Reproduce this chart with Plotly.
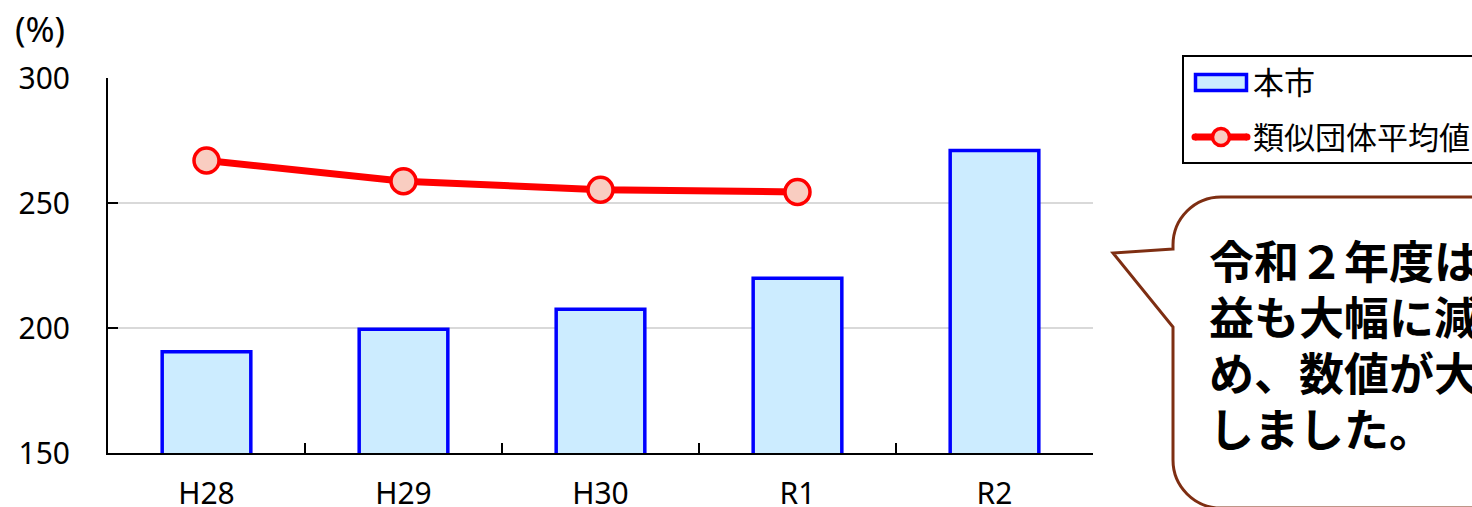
import plotly.graph_objects as go

# Fiscal years and indicator values (%)
years = ["H28", "H29", "H30", "R1", "R2"]
city_values = [190.5, 199.5, 207.5, 219.9, 271.0]
peer_average = [267.0, 258.7, 255.3, 254.4, None]

series_names = ["本市", "類似団体平均値"]
y_ticks = [150, 200, 250, 300]
unit_label = "(%)"
callout_lines = ["令和２年度は", "益も大幅に減", "め、数値が大", "しました。"]

W, H = 1472, 507
L, R, T, B = 108, 1093, 78, 453   # plot area in pixels

FONT = "Noto Sans, Noto Sans CJK JP, sans-serif"
BAR_FILL, BAR_EDGE = "#CCECFF", "#0000FF"
LINE_RED, MARKER_FILL = "#FF0000", "#F9CDC1"
BUBBLE_EDGE = "#7E2E12"


def px(x):
    return (x - L) / (R - L)


def py(y):
    return (B - y) / (B - T)


def path(points_cmds):
    out = []
    for cmd, pts in points_cmds:
        coords = " ".join(f"{px(a):.5f},{py(b):.5f}" for a, b in pts)
        out.append(f"{cmd}{coords}")
    return " ".join(out) + " Z"


fig = go.Figure()

fig.add_trace(go.Bar(
    x=years, y=city_values, name=series_names[0],
    marker=dict(color=BAR_FILL, line=dict(color=BAR_EDGE, width=3.5)),
    showlegend=False, hoverinfo="skip",
))

fig.add_trace(go.Scatter(
    x=years, y=peer_average, name=series_names[1], mode="lines+markers",
    line=dict(color=LINE_RED, width=7),
    marker=dict(size=25, color=MARKER_FILL, line=dict(color=LINE_RED, width=3.5)),
    showlegend=False, hoverinfo="skip",
))

shapes = []

# Legend box with hand-drawn keys
shapes.append(dict(type="rect", xref="paper", yref="paper",
                   x0=px(1183), x1=px(1520), y0=py(163), y1=py(56),
                   line=dict(color="black", width=2), fillcolor="white", layer="below"))
shapes.append(dict(type="rect", xref="paper", yref="paper",
                   x0=px(1195.5), x1=px(1246.5), y0=py(90.5), y1=py(74.5),
                   line=dict(color=BAR_EDGE, width=3.5), fillcolor=BAR_FILL))
shapes.append(dict(type="line", xref="paper", yref="paper",
                   x0=px(1195), x1=px(1247), y0=py(137), y1=py(137),
                   line=dict(color=LINE_RED, width=7)))
for cx in (1195, 1247):
    shapes.append(dict(type="circle", xref="paper", yref="paper",
                       x0=px(cx - 3.5), x1=px(cx + 3.5), y0=py(140.5), y1=py(133.5),
                       line=dict(width=0), fillcolor=LINE_RED))
shapes.append(dict(type="circle", xref="paper", yref="paper",
                   x0=px(1221 - 8.5), x1=px(1221 + 8.5), y0=py(137 + 8.5), y1=py(137 - 8.5),
                   line=dict(color=LINE_RED, width=3.5), fillcolor=MARKER_FILL))

# Speech bubble
r = 48
k = 0.5523 * r
bx, top, bottom, right = 1173, 197, 508, 1520
bubble = [
    ("M", [(bx, 249)]),
    ("L", [(1113, 253)]),
    ("L", [(bx, 327)]),
    ("L", [(bx, bottom - r)]),
    ("C", [(bx, bottom - r + k), (bx + r - k, bottom), (bx + r, bottom)]),
    ("L", [(right, bottom)]),
    ("L", [(right, top)]),
    ("L", [(bx + r, top)]),
    ("C", [(bx + r - k, top), (bx, top + r - k), (bx, top + r)]),
]
shapes.append(dict(type="path", xref="paper", yref="paper", path=path(bubble),
                   line=dict(color=BUBBLE_EDGE, width=3), fillcolor="white"))

annotations = [
    dict(text=unit_label, xref="paper", yref="paper", x=px(40), y=py(28),
         xanchor="center", yanchor="middle", showarrow=False,
         font=dict(family=FONT, size=35, color="black")),
    dict(text=series_names[0], xref="paper", yref="paper", x=px(1251), y=py(82),
         xanchor="left", yanchor="middle", showarrow=False,
         font=dict(family=FONT, size=31, color="black")),
    dict(text=series_names[1], xref="paper", yref="paper", x=px(1251), y=py(137),
         xanchor="left", yanchor="middle", showarrow=False,
         font=dict(family=FONT, size=31, color="black")),
]
for line_text, cy in zip(callout_lines, [261, 317, 373, 429]):
    annotations.append(dict(
        text=line_text, xref="paper", yref="paper", x=px(1207), y=py(cy),
        xanchor="left", yanchor="middle", showarrow=False, align="left",
        font=dict(family=FONT, size=45, color="black", weight=700)))

fig.update_layout(
    width=W, height=H,
    margin=dict(l=L, r=W - R, t=T, b=H - B, autoexpand=False),
    paper_bgcolor="white", plot_bgcolor="white",
    bargap=0.55,
    font=dict(family=FONT, size=30, color="black"),
    shapes=shapes, annotations=annotations,
    hovermode=False,
)

fig.update_xaxes(
    type="category", showline=True, linecolor="black", linewidth=2,
    ticks="inside", tickson="boundaries", ticklen=10, tickwidth=2, tickcolor="black",
    showgrid=False, tickfont=dict(family=FONT, size=30, color="black"),
    ticklabelstandoff=13,
)

fig.update_yaxes(
    range=[150, 300], tickvals=y_ticks, showline=True, linecolor="black", linewidth=2,
    ticks="inside", ticklen=10, tickwidth=2, tickcolor="black",
    showgrid=True, gridcolor="#D9D9D9", gridwidth=2, zeroline=False,
    tickfont=dict(family=FONT, size=30, color="black"),
    ticklabelstandoff=30,
)

fig.write_html("out.html")
